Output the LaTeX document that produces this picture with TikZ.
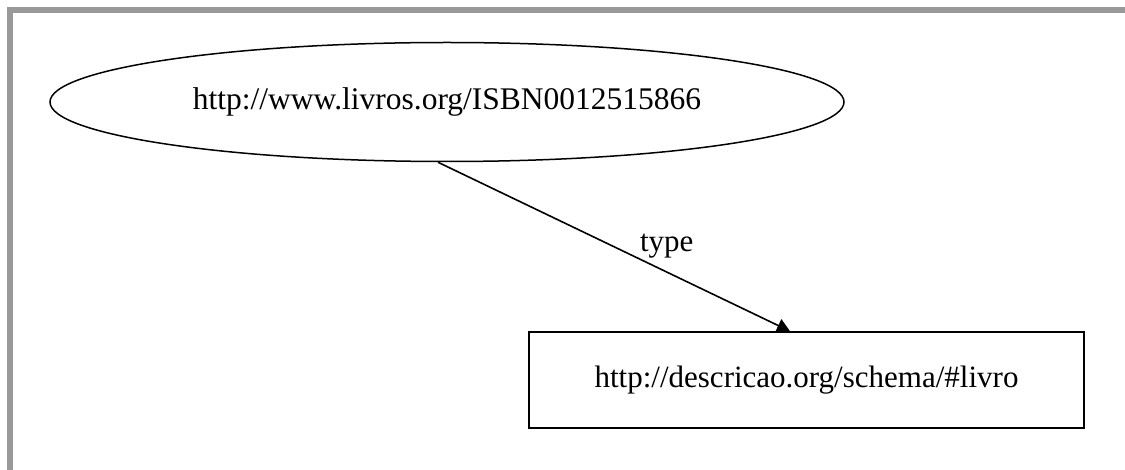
\documentclass[tikz,border=0pt]{standalone}
\usepackage{fontspec}
\setmainfont{Liberation Serif}
\usetikzlibrary{shapes.geometric,arrows.meta}

\definecolor{framegray}{RGB}{153,153,153}

\tikzset{
  resource/.style={ellipse, draw=black, line width=1.5pt, inner sep=0pt,
    minimum width=794pt, minimum height=119pt,
    font=\fontsize{31.5}{36}\selectfont},
  literalbox/.style={rectangle, draw=black, line width=1.6pt, inner sep=0pt,
    minimum width=555pt, minimum height=96pt,
    font=\fontsize{31}{36}\selectfont},
  relation/.style={draw=black, line width=1.6pt,
    -{Triangle[length=13pt,width=14pt]}},
  edgelabel/.style={font=\fontsize{31}{36}\selectfont, inner sep=0pt},
  frameline/.style={draw=framegray, line width=6pt}
}

\begin{document}
\begin{tikzpicture}[x=1pt, y=-1pt]
  \useasboundingbox (0,0) rectangle (1125,470);
  \fill[white] (0,0) rectangle (1125,470);

  % panel frame on the top and left sides
  \draw[frameline] (10,475) -- (10,10) -- (1130,10);

  \node[resource] (book) at (447,102) {http://www.livros.org/ISBN0012515866};
  \node[literalbox] (cls) at (806.5,380) {http://descricao.org/schema/\#livro};

  \draw[relation] ([xshift=-9pt]book.south) -- ([xshift=-16.5pt]cls.north)
    node[edgelabel, pos=0.65, yshift=26pt] {type};
\end{tikzpicture}
\end{document}
